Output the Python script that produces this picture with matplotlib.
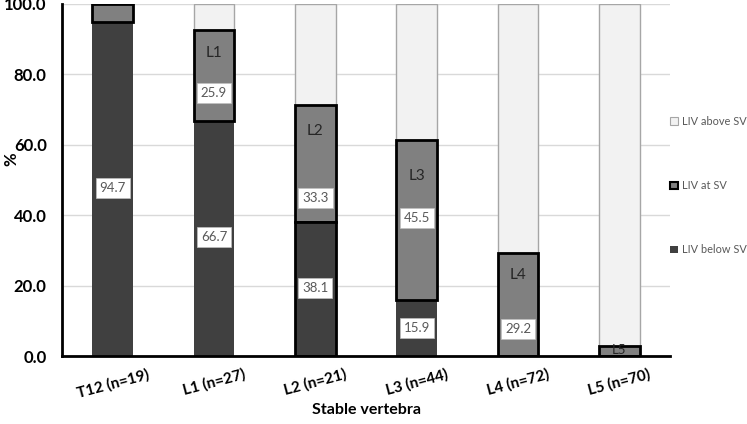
import numpy as np
import matplotlib.pyplot as plt
from matplotlib.patches import Patch

plt.rcParams['font.family'] = ['Lato', 'DejaVu Sans']

# Data
categories = ['T12 (n=19)', 'L1 (n=27)', 'L2 (n=21)', 'L3 (n=44)', 'L4 (n=72)', 'L5 (n=70)']
below = [94.7, 66.7, 38.1, 15.9, 0.0, 0.0]
at_sv = [5.3, 25.9, 33.3, 45.5, 29.2, 2.9]
above = [0.0, 7.4, 28.6, 38.6, 70.8, 97.1]
level_names = ['', 'L1', 'L2', 'L3', 'L4', 'L5']

# label positions (y in data units) as placed on the original
below_label_y = [47.7, 33.8, 19.3, 8.0, None, None]
at_label_y = [None, 74.7, 45.0, 39.2, 7.7, None]
level_label_y = [None, 86.0, 64.0, 51.0, 23.0, 1.8]

x = np.arange(len(categories))
width = 0.4

fig = plt.figure(figsize=(7.47, 4.24), dpi=100)
ax = fig.add_axes([0.083, 0.160, 0.814, 0.831])

c_below = '#404040'
c_at = '#808080'
c_above = '#f2f2f2'

ax.bar(x, below, width, color=c_below, edgecolor='none', zorder=2)
ax.bar(x, at_sv, width, bottom=below, color=c_at, edgecolor='black', linewidth=2, zorder=3)
bot2 = np.array(below) + np.array(at_sv)
ax.bar(x, above, width, bottom=bot2, color=c_above, edgecolor='#a6a6a6', linewidth=1, zorder=2)
# outlined below segment of L2
ax.bar(x[2], below[2], width, color=c_below, edgecolor='black', linewidth=2, zorder=3)

box = dict(boxstyle='square,pad=0.3', fc='white', ec='#bfbfbf', lw=0.5)
for i in range(len(categories)):
    if below_label_y[i] is not None:
        ax.text(x[i], below_label_y[i], f'{below[i]:.1f}', ha='center', va='center',
                fontsize=9.5, color='#595959', bbox=box, zorder=5)
    if at_label_y[i] is not None:
        ax.text(x[i], at_label_y[i], f'{at_sv[i]:.1f}', ha='center', va='center',
                fontsize=9.5, color='#595959', bbox=box, zorder=5)
    if level_label_y[i] is not None:
        ax.text(x[i], level_label_y[i], level_names[i], ha='center', va='center',
                fontsize=11 if i < 5 else 9.5, color='#262626', zorder=5)

ax.set_ylim(0, 100)
ax.set_xlim(-0.5, len(categories) - 0.5)
ax.set_yticks(np.arange(0, 101, 20))
ax.set_yticklabels([f'{v:.1f}' for v in np.arange(0, 101, 20)], fontsize=12, fontweight='bold')
ax.set_xticks(x)
ax.set_xticklabels(categories, rotation=15, fontsize=11, fontweight='bold')
ax.tick_params(axis='y', length=0, pad=11)
ax.tick_params(axis='x', length=0, pad=8)
ax.yaxis.grid(True, color='#d9d9d9', linewidth=1, zorder=0)
ax.set_axisbelow(True)
for s in ['top', 'right']:
    ax.spines[s].set_visible(False)
for s in ['left', 'bottom']:
    ax.spines[s].set_linewidth(2)
    ax.spines[s].set_color('black')
    ax.spines[s].set_zorder(6)

ax.set_xlabel('Stable vertebra', fontsize=11.5, fontweight='bold', labelpad=2)
ax.set_ylabel('%', fontsize=12, fontweight='bold')
ax.yaxis.set_label_coords(-0.07, 0.56)

handles = [Patch(facecolor=c_above, edgecolor='#a6a6a6', linewidth=0.8, label='LIV above SV'),
           Patch(facecolor=c_at, edgecolor='black', linewidth=1.5, label='LIV at SV'),
           Patch(facecolor=c_below, edgecolor='none', label='LIV below SV')]
leg = fig.legend(handles=handles, loc='center left', bbox_to_anchor=(0.897, 0.562),
                 frameon=False, fontsize=7.9, labelspacing=4.85, handlelength=0.7,
                 handleheight=0.7, handletextpad=0.35, borderpad=0, borderaxespad=0,
                 labelcolor='#595959')

fig.savefig('out.png', dpi=100)
